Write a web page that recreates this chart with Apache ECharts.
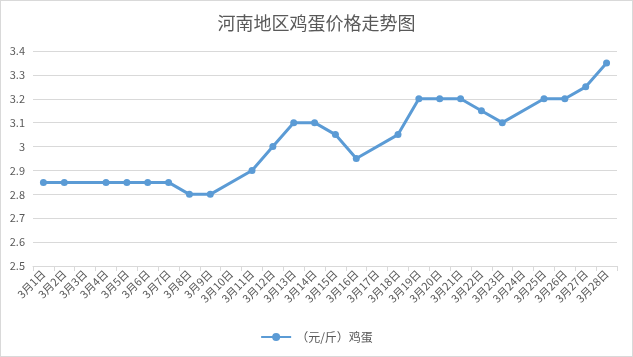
<!DOCTYPE html>
<html><head><meta charset="utf-8">
<script src="https://cdn.jsdelivr.net/npm/echarts@6/dist/echarts.min.js"></script>
<style>html,body{margin:0;padding:0;background:#fff}#c{width:631px;height:355px;border:1px solid #d9d9d9}</style>
</head><body><div id="c"></div>
<script>
const categories = ['3月1日','3月2日','3月3日','3月4日','3月5日','3月6日','3月7日','3月8日','3月9日','3月10日','3月11日','3月12日','3月13日','3月14日','3月15日','3月16日','3月17日','3月18日','3月19日','3月20日','3月21日','3月22日','3月23日','3月24日','3月25日','3月26日','3月27日','3月28日'];
const prices = [2.85,2.85,null,2.85,2.85,2.85,2.85,2.8,2.8,null,2.9,3.0,3.1,3.1,3.05,2.95,null,3.05,3.2,3.2,3.2,3.15,3.1,null,3.2,3.2,3.25,3.35];
const seriesName = '（元/斤）鸡蛋';
const titleText = '河南地区鸡蛋价格走势图';
const chart = echarts.init(document.getElementById('c'));
const font = '"Noto Sans CJK SC", "Noto Sans", sans-serif';
chart.setOption({
  animation:false,
  title:{text:titleText,left:'center',top:8,textStyle:{fontFamily:font,fontSize:18,fontWeight:'normal',color:'#595959'}},
  legend:{bottom:8,left:'center',itemWidth:30,itemHeight:10,textStyle:{fontFamily:font,fontSize:12,color:'#595959'},data:[seriesName]},
  grid:{left:32,right:15,top:50,bottom:90},
  xAxis:{type:'category',data:categories,boundaryGap:true,
    axisLine:{lineStyle:{color:'#d9d9d9'}},
    axisTick:{show:true,length:5,lineStyle:{color:'#d9d9d9'}},
    axisLabel:{rotate:45,interval:0,fontFamily:font,fontSize:11,color:'#595959',margin:6}},
  yAxis:{type:'value',min:2.5,max:3.4,interval:0.1,
    axisLine:{show:false},axisTick:{show:false},
    splitLine:{lineStyle:{color:'#d9d9d9'}},
    axisLabel:{fontFamily:font,fontSize:11,color:'#595959',margin:8,formatter:v=>String(+v.toFixed(2))}},
  series:[{name:seriesName,type:'line',data:prices,connectNulls:true,
    symbol:'circle',symbolSize:7,
    lineStyle:{color:'#5b9bd5',width:3},
    itemStyle:{color:'#5b9bd5'}}]
});
</script></body></html>
